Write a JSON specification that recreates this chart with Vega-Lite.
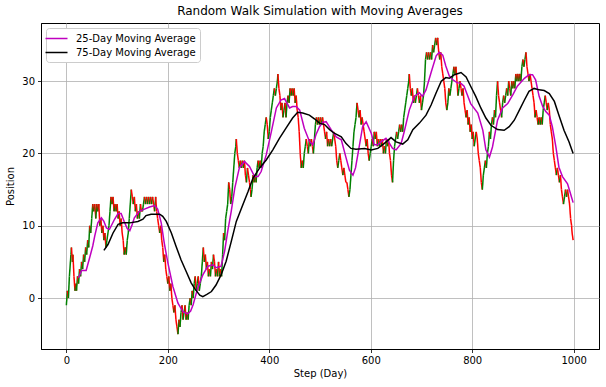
{
  "$schema": "https://vega.github.io/schema/vega-lite/v6.json",
  "width": 558,
  "height": 326,
  "autosize": "none",
  "padding": {"left": 41, "top": 23, "right": 7, "bottom": 38},
  "background": "white",
  "config": {
    "font": "DejaVu Sans",
    "view": {"stroke": "black", "strokeWidth": 1},
    "axis": {
      "labelFont": "DejaVu Sans",
      "titleFont": "DejaVu Sans",
      "labelFontSize": 10,
      "titleFontSize": 10,
      "titleFontWeight": "normal",
      "labelColor": "black",
      "titleColor": "black",
      "domainColor": "black",
      "domainWidth": 1,
      "tickColor": "black",
      "tickSize": 3.5,
      "tickWidth": 0.8,
      "labelPadding": 3,
      "gridColor": "#b0b0b0",
      "gridWidth": 0.8
    }
  },
  "title": {
    "text": "Random Walk Simulation with Moving Averages",
    "font": "DejaVu Sans",
    "fontSize": 12,
    "fontWeight": "normal",
    "color": "black",
    "offset": 5
  },
  "datasets": {
    "walk": [
      {"s":0,"v":-1},{"s":2,"v":1},{"s":4,"v":0},{"s":6,"v":3},{"s":9,"v":6},{"s":10,"v":7},{"s":12,"v":5},{"s":13,"v":6},{"s":15,"v":3},{"s":17,"v":1},{"s":19,"v":2},{"s":20,"v":1},{"s":22,"v":3},{"s":24,"v":2},{"s":26,"v":4},{"s":28,"v":3},{"s":30,"v":5},{"s":32,"v":4},{"s":34,"v":6},{"s":36,"v":5},{"s":38,"v":7},{"s":40,"v":6},{"s":42,"v":8},{"s":44,"v":7},{"s":46,"v":10},{"s":48,"v":9},{"s":50,"v":11},
      {"s":52,"v":13},{"s":54,"v":12},{"s":56,"v":13},{"s":58,"v":11},{"s":60,"v":13},{"s":62,"v":12},{"s":64,"v":13},{"s":66,"v":10},{"s":68,"v":11},{"s":70,"v":9},{"s":72,"v":10},{"s":74,"v":8},{"s":76,"v":9},{"s":78,"v":7},{"s":80,"v":8},{"s":82,"v":9},{"s":84,"v":10},{"s":86,"v":12},{"s":88,"v":14},{"s":90,"v":13},{"s":92,"v":14},{"s":94,"v":12},{"s":96,"v":13},{"s":98,"v":12},{"s":100,"v":13},
      {"s":102,"v":11},{"s":104,"v":12},{"s":106,"v":10},{"s":108,"v":11},{"s":110,"v":9},{"s":112,"v":8},{"s":114,"v":6},{"s":116,"v":7},{"s":118,"v":6},{"s":120,"v":8},{"s":122,"v":9},{"s":124,"v":11},{"s":126,"v":13},{"s":128,"v":15},{"s":130,"v":14},{"s":132,"v":13},{"s":134,"v":14},{"s":136,"v":12},{"s":138,"v":13},{"s":140,"v":11},{"s":142,"v":12},{"s":144,"v":11},{"s":146,"v":13},{"s":148,"v":12},{"s":150,"v":12},
      {"s":152,"v":13},{"s":154,"v":14},{"s":156,"v":13},{"s":158,"v":14},{"s":160,"v":13},{"s":162,"v":14},{"s":164,"v":13},{"s":166,"v":14},{"s":168,"v":13},{"s":170,"v":14},{"s":172,"v":13},{"s":174,"v":12},{"s":176,"v":14},{"s":178,"v":12},{"s":180,"v":11},{"s":182,"v":10},{"s":184,"v":9},{"s":186,"v":10},{"s":188,"v":8},{"s":190,"v":7},{"s":192,"v":5},{"s":194,"v":6},{"s":196,"v":4},{"s":198,"v":3},{"s":200,"v":2},
      {"s":202,"v":3},{"s":204,"v":1},{"s":206,"v":2},{"s":208,"v":0},{"s":210,"v":-1},{"s":212,"v":-2},{"s":214,"v":-1},{"s":216,"v":-3},{"s":218,"v":-4},{"s":220,"v":-5},{"s":222,"v":-3},{"s":224,"v":-4},{"s":226,"v":-2},{"s":228,"v":-1},{"s":230,"v":-3},{"s":232,"v":-2},{"s":234,"v":-1},{"s":236,"v":-3},{"s":238,"v":-2},{"s":240,"v":-3},{"s":242,"v":-1},{"s":244,"v":0},{"s":246,"v":-1},{"s":248,"v":1},{"s":250,"v":0},
      {"s":252,"v":2},{"s":254,"v":3},{"s":256,"v":1},{"s":258,"v":2},{"s":260,"v":3},{"s":262,"v":1},{"s":264,"v":2},{"s":266,"v":3},{"s":268,"v":5},{"s":270,"v":7},{"s":272,"v":5},{"s":274,"v":6},{"s":276,"v":4},{"s":278,"v":5},{"s":280,"v":3},{"s":282,"v":4},{"s":284,"v":3},{"s":286,"v":5},{"s":288,"v":4},{"s":290,"v":6},{"s":292,"v":5},{"s":294,"v":3},{"s":296,"v":4},{"s":298,"v":3},{"s":300,"v":5},
      {"s":302,"v":3},{"s":304,"v":4},{"s":306,"v":3},{"s":308,"v":6},{"s":310,"v":9},{"s":312,"v":8},{"s":314,"v":11},{"s":316,"v":12},{"s":318,"v":13},{"s":320,"v":16},{"s":322,"v":15},{"s":324,"v":13},{"s":326,"v":14},{"s":328,"v":16},{"s":330,"v":18},{"s":332,"v":20},{"s":334,"v":21},{"s":335,"v":22},{"s":337,"v":20},{"s":339,"v":19},{"s":341,"v":18},{"s":343,"v":19},{"s":345,"v":18},{"s":347,"v":19},{"s":349,"v":18},
      {"s":351,"v":19},{"s":353,"v":17},{"s":355,"v":16},{"s":357,"v":18},{"s":359,"v":17},{"s":361,"v":16},{"s":363,"v":15},{"s":364,"v":14},{"s":366,"v":15},{"s":368,"v":17},{"s":370,"v":16},{"s":372,"v":17},{"s":374,"v":16},{"s":376,"v":18},{"s":378,"v":19},{"s":380,"v":18},{"s":382,"v":19},{"s":384,"v":18},{"s":386,"v":20},{"s":388,"v":21},{"s":390,"v":23},{"s":392,"v":24},{"s":394,"v":25},{"s":396,"v":24},{"s":398,"v":22},
      {"s":400,"v":23},{"s":402,"v":25},{"s":404,"v":26},{"s":406,"v":27},{"s":408,"v":28},{"s":410,"v":29},{"s":412,"v":28},{"s":414,"v":29},{"s":416,"v":30},{"s":417,"v":31},{"s":419,"v":29},{"s":421,"v":28},{"s":423,"v":26},{"s":425,"v":27},{"s":427,"v":25},{"s":429,"v":26},{"s":431,"v":27},{"s":433,"v":25},{"s":435,"v":27},{"s":437,"v":28},{"s":439,"v":27},{"s":441,"v":29},{"s":443,"v":28},{"s":445,"v":29},{"s":447,"v":28},
      {"s":449,"v":29},{"s":451,"v":27},{"s":453,"v":28},{"s":455,"v":26},{"s":457,"v":25},{"s":459,"v":23},{"s":461,"v":20},{"s":463,"v":18},{"s":465,"v":19},{"s":467,"v":18},{"s":469,"v":20},{"s":471,"v":21},{"s":473,"v":22},{"s":475,"v":21},{"s":477,"v":20},{"s":479,"v":22},{"s":481,"v":21},{"s":483,"v":22},{"s":485,"v":21},{"s":487,"v":20},{"s":489,"v":22},{"s":491,"v":24},{"s":493,"v":25},{"s":495,"v":24},{"s":497,"v":25},
      {"s":499,"v":24},{"s":501,"v":25},{"s":503,"v":24},{"s":505,"v":25},{"s":507,"v":24},{"s":509,"v":23},{"s":511,"v":22},{"s":513,"v":23},{"s":515,"v":21},{"s":517,"v":22},{"s":519,"v":21},{"s":521,"v":22},{"s":523,"v":21},{"s":525,"v":22},{"s":527,"v":23},{"s":529,"v":22},{"s":531,"v":21},{"s":533,"v":19},{"s":535,"v":18},{"s":537,"v":19},{"s":539,"v":20},{"s":541,"v":19},{"s":543,"v":18},{"s":545,"v":17},{"s":547,"v":18},
      {"s":549,"v":17},{"s":551,"v":16},{"s":553,"v":16},{"s":555,"v":15},{"s":557,"v":14},{"s":559,"v":15},{"s":561,"v":17},{"s":563,"v":19},{"s":565,"v":21},{"s":567,"v":23},{"s":569,"v":24},{"s":571,"v":25},{"s":573,"v":27},{"s":575,"v":26},{"s":577,"v":25},{"s":579,"v":26},{"s":581,"v":24},{"s":583,"v":25},{"s":585,"v":24},{"s":587,"v":23},{"s":589,"v":22},{"s":591,"v":21},{"s":593,"v":22},{"s":595,"v":20},{"s":597,"v":19},
      {"s":599,"v":20},{"s":601,"v":21},{"s":603,"v":22},{"s":605,"v":21},{"s":607,"v":23},{"s":609,"v":22},{"s":611,"v":23},{"s":613,"v":21},{"s":615,"v":22},{"s":617,"v":21},{"s":619,"v":22},{"s":621,"v":21},{"s":623,"v":22},{"s":625,"v":20},{"s":627,"v":21},{"s":629,"v":20},{"s":631,"v":22},{"s":633,"v":21},{"s":635,"v":22},{"s":637,"v":20},{"s":639,"v":19},{"s":641,"v":17},{"s":643,"v":16},{"s":645,"v":19},{"s":647,"v":21},
      {"s":649,"v":22},{"s":651,"v":23},{"s":653,"v":22},{"s":655,"v":23},{"s":657,"v":24},{"s":659,"v":23},{"s":661,"v":24},{"s":663,"v":23},{"s":665,"v":25},{"s":667,"v":26},{"s":669,"v":27},{"s":671,"v":28},{"s":673,"v":29},{"s":675,"v":30},{"s":676,"v":31},{"s":678,"v":29},{"s":680,"v":28},{"s":682,"v":29},{"s":684,"v":27},{"s":686,"v":28},{"s":688,"v":27},{"s":690,"v":28},{"s":692,"v":29},{"s":694,"v":28},{"s":696,"v":27},
      {"s":698,"v":28},{"s":700,"v":26},{"s":702,"v":27},{"s":704,"v":28},{"s":706,"v":30},{"s":708,"v":33},{"s":710,"v":34},{"s":712,"v":33},{"s":714,"v":34},{"s":716,"v":33},{"s":718,"v":34},{"s":720,"v":33},{"s":722,"v":35},{"s":724,"v":34},{"s":726,"v":35},{"s":728,"v":36},{"s":730,"v":35},{"s":732,"v":36},{"s":734,"v":34},{"s":736,"v":33},{"s":738,"v":34},{"s":740,"v":32},{"s":742,"v":31},{"s":744,"v":30},{"s":746,"v":29},
      {"s":748,"v":27},{"s":750,"v":26},{"s":752,"v":27},{"s":754,"v":29},{"s":756,"v":28},{"s":758,"v":29},{"s":760,"v":30},{"s":762,"v":31},{"s":764,"v":32},{"s":766,"v":31},{"s":768,"v":32},{"s":770,"v":30},{"s":772,"v":28},{"s":774,"v":29},{"s":776,"v":30},{"s":778,"v":29},{"s":780,"v":28},{"s":782,"v":29},{"s":784,"v":27},{"s":786,"v":26},{"s":788,"v":25},{"s":790,"v":26},{"s":792,"v":24},{"s":794,"v":25},{"s":796,"v":23},
      {"s":798,"v":24},{"s":800,"v":22},{"s":802,"v":23},{"s":804,"v":21},{"s":806,"v":22},{"s":808,"v":23},{"s":810,"v":22},{"s":812,"v":20},{"s":814,"v":19},{"s":816,"v":18},{"s":818,"v":16},{"s":820,"v":15},{"s":822,"v":17},{"s":824,"v":18},{"s":826,"v":19},{"s":828,"v":18},{"s":830,"v":20},{"s":832,"v":21},{"s":834,"v":23},{"s":836,"v":22},{"s":838,"v":24},{"s":840,"v":25},{"s":842,"v":24},{"s":844,"v":26},{"s":846,"v":25},
      {"s":848,"v":28},{"s":850,"v":30},{"s":852,"v":28},{"s":854,"v":27},{"s":856,"v":26},{"s":858,"v":25},{"s":860,"v":27},{"s":862,"v":28},{"s":864,"v":27},{"s":866,"v":28},{"s":868,"v":29},{"s":870,"v":28},{"s":872,"v":30},{"s":874,"v":29},{"s":876,"v":28},{"s":878,"v":30},{"s":880,"v":29},{"s":882,"v":30},{"s":884,"v":29},{"s":886,"v":31},{"s":888,"v":30},{"s":890,"v":31},{"s":892,"v":30},{"s":894,"v":31},{"s":896,"v":30},
      {"s":898,"v":32},{"s":900,"v":33},{"s":902,"v":32},{"s":904,"v":33},{"s":906,"v":34},{"s":908,"v":32},{"s":910,"v":31},{"s":912,"v":30},{"s":914,"v":31},{"s":916,"v":30},{"s":918,"v":29},{"s":920,"v":28},{"s":922,"v":27},{"s":924,"v":25},{"s":926,"v":26},{"s":928,"v":25},{"s":930,"v":24},{"s":932,"v":25},{"s":934,"v":24},{"s":936,"v":25},{"s":938,"v":24},{"s":940,"v":26},{"s":942,"v":27},{"s":944,"v":28},{"s":946,"v":27},
      {"s":948,"v":26},{"s":950,"v":27},{"s":952,"v":26},{"s":954,"v":24},{"s":956,"v":23},{"s":958,"v":22},{"s":960,"v":20},{"s":962,"v":19},{"s":964,"v":18},{"s":966,"v":17},{"s":968,"v":18},{"s":970,"v":17},{"s":972,"v":16},{"s":974,"v":17},{"s":976,"v":15},{"s":978,"v":14},{"s":980,"v":13},{"s":982,"v":14},{"s":984,"v":15},{"s":986,"v":14},{"s":988,"v":15},{"s":990,"v":14},{"s":992,"v":13},{"s":994,"v":11},{"s":996,"v":10},{"s":997,"v":9},{"s":999,"v":8}
    ],
    "ma": [
      {"s":24,"v":2.8,"k":"25-Day Moving Average"},{"s":30,"v":3.8,"k":"25-Day Moving Average"},{"s":39,"v":3.8,"k":"25-Day Moving Average"},{"s":46,"v":5.6,"k":"25-Day Moving Average"},{"s":52,"v":7.2,"k":"25-Day Moving Average"},{"s":56,"v":8.6,"k":"25-Day Moving Average"},{"s":62,"v":10.4,"k":"25-Day Moving Average"},{"s":69,"v":11.1,"k":"25-Day Moving Average"},{"s":74,"v":10.6,"k":"25-Day Moving Average"},{"s":79,"v":9.7,"k":"25-Day Moving Average"},{"s":85,"v":9.5,"k":"25-Day Moving Average"},{"s":95,"v":10.9,"k":"25-Day Moving Average"},{"s":102,"v":11.7,"k":"25-Day Moving Average"},{"s":108,"v":11.7,"k":"25-Day Moving Average"},{"s":114,"v":10.6,"k":"25-Day Moving Average"},{"s":120,"v":9.6,"k":"25-Day Moving Average"},{"s":125,"v":9.3,"k":"25-Day Moving Average"},{"s":130,"v":10.2,"k":"25-Day Moving Average"},{"s":134,"v":11.1,"k":"25-Day Moving Average"},{"s":144,"v":12,"k":"25-Day Moving Average"},{"s":154,"v":12.3,"k":"25-Day Moving Average"},{"s":164,"v":12.6,"k":"25-Day Moving Average"},{"s":174,"v":12.8,"k":"25-Day Moving Average"},{"s":180,"v":12.3,"k":"25-Day Moving Average"},{"s":187,"v":10.4,"k":"25-Day Moving Average"},{"s":193,"v":7.6,"k":"25-Day Moving Average"},{"s":200,"v":4.9,"k":"25-Day Moving Average"},{"s":210,"v":1.6,"k":"25-Day Moving Average"},{"s":220,"v":-0.7,"k":"25-Day Moving Average"},{"s":230,"v":-1.9,"k":"25-Day Moving Average"},{"s":239,"v":-2.2,"k":"25-Day Moving Average"},{"s":245,"v":-1.8,"k":"25-Day Moving Average"},{"s":250,"v":-0.9,"k":"25-Day Moving Average"},{"s":259,"v":1.4,"k":"25-Day Moving Average"},{"s":269,"v":3.2,"k":"25-Day Moving Average"},{"s":279,"v":4.4,"k":"25-Day Moving Average"},{"s":289,"v":4.6,"k":"25-Day Moving Average"},{"s":295,"v":4.2,"k":"25-Day Moving Average"},{"s":300,"v":4.3,"k":"25-Day Moving Average"},{"s":305,"v":4.4,"k":"25-Day Moving Average"},{"s":312,"v":6.5,"k":"25-Day Moving Average"},{"s":318,"v":9.2,"k":"25-Day Moving Average"},{"s":325,"v":12,"k":"25-Day Moving Average"},{"s":332,"v":15.2,"k":"25-Day Moving Average"},{"s":341,"v":18,"k":"25-Day Moving Average"},{"s":351,"v":18.9,"k":"25-Day Moving Average"},{"s":361,"v":18.2,"k":"25-Day Moving Average"},{"s":371,"v":16.8,"k":"25-Day Moving Average"},{"s":378,"v":16.8,"k":"25-Day Moving Average"},{"s":384,"v":17.5,"k":"25-Day Moving Average"},{"s":394,"v":19.8,"k":"25-Day Moving Average"},{"s":404,"v":23,"k":"25-Day Moving Average"},{"s":414,"v":26.3,"k":"25-Day Moving Average"},{"s":423,"v":27.4,"k":"25-Day Moving Average"},{"s":430,"v":27.6,"k":"25-Day Moving Average"},{"s":440,"v":26.3,"k":"25-Day Moving Average"},{"s":446,"v":26.5,"k":"25-Day Moving Average"},{"s":453,"v":26.5,"k":"25-Day Moving Average"},{"s":460,"v":26,"k":"25-Day Moving Average"},{"s":469,"v":23.5,"k":"25-Day Moving Average"},{"s":479,"v":21.7,"k":"25-Day Moving Average"},{"s":486,"v":21.2,"k":"25-Day Moving Average"},{"s":492,"v":22.6,"k":"25-Day Moving Average"},{"s":499,"v":23.7,"k":"25-Day Moving Average"},{"s":505,"v":24.3,"k":"25-Day Moving Average"},{"s":512,"v":24.4,"k":"25-Day Moving Average"},{"s":522,"v":23.3,"k":"25-Day Moving Average"},{"s":532,"v":22.3,"k":"25-Day Moving Average"},{"s":542,"v":21.9,"k":"25-Day Moving Average"},{"s":551,"v":19.5,"k":"25-Day Moving Average"},{"s":558,"v":17.7,"k":"25-Day Moving Average"},{"s":565,"v":17,"k":"25-Day Moving Average"},{"s":570,"v":18,"k":"25-Day Moving Average"},{"s":575,"v":20,"k":"25-Day Moving Average"},{"s":584,"v":23.7,"k":"25-Day Moving Average"},{"s":591,"v":24.4,"k":"25-Day Moving Average"},{"s":601,"v":22.8,"k":"25-Day Moving Average"},{"s":607,"v":21.2,"k":"25-Day Moving Average"},{"s":614,"v":21.2,"k":"25-Day Moving Average"},{"s":620,"v":21.6,"k":"25-Day Moving Average"},{"s":630,"v":22.1,"k":"25-Day Moving Average"},{"s":637,"v":21.4,"k":"25-Day Moving Average"},{"s":643,"v":20.7,"k":"25-Day Moving Average"},{"s":650,"v":20.5,"k":"25-Day Moving Average"},{"s":660,"v":21.4,"k":"25-Day Moving Average"},{"s":666,"v":23,"k":"25-Day Moving Average"},{"s":676,"v":26,"k":"25-Day Moving Average"},{"s":686,"v":27.9,"k":"25-Day Moving Average"},{"s":696,"v":28.4,"k":"25-Day Moving Average"},{"s":702,"v":27.9,"k":"25-Day Moving Average"},{"s":709,"v":28.8,"k":"25-Day Moving Average"},{"s":719,"v":31.2,"k":"25-Day Moving Average"},{"s":729,"v":33.5,"k":"25-Day Moving Average"},{"s":735,"v":34,"k":"25-Day Moving Average"},{"s":742,"v":33.6,"k":"25-Day Moving Average"},{"s":748,"v":32.1,"k":"25-Day Moving Average"},{"s":755,"v":30.7,"k":"25-Day Moving Average"},{"s":762,"v":30.2,"k":"25-Day Moving Average"},{"s":770,"v":29.8,"k":"25-Day Moving Average"},{"s":778,"v":29.7,"k":"25-Day Moving Average"},{"s":784,"v":29.3,"k":"25-Day Moving Average"},{"s":790,"v":28.2,"k":"25-Day Moving Average"},{"s":797,"v":26.9,"k":"25-Day Moving Average"},{"s":811,"v":25.6,"k":"25-Day Moving Average"},{"s":821,"v":23.2,"k":"25-Day Moving Average"},{"s":827,"v":20.5,"k":"25-Day Moving Average"},{"s":834,"v":19.5,"k":"25-Day Moving Average"},{"s":840,"v":20.9,"k":"25-Day Moving Average"},{"s":850,"v":24.6,"k":"25-Day Moving Average"},{"s":860,"v":26.3,"k":"25-Day Moving Average"},{"s":870,"v":26.9,"k":"25-Day Moving Average"},{"s":880,"v":28.1,"k":"25-Day Moving Average"},{"s":889,"v":29.3,"k":"25-Day Moving Average"},{"s":903,"v":30.4,"k":"25-Day Moving Average"},{"s":912,"v":30.9,"k":"25-Day Moving Average"},{"s":919,"v":30.9,"k":"25-Day Moving Average"},{"s":925,"v":30.2,"k":"25-Day Moving Average"},{"s":932,"v":27.9,"k":"25-Day Moving Average"},{"s":939,"v":26.5,"k":"25-Day Moving Average"},{"s":945,"v":25.8,"k":"25-Day Moving Average"},{"s":952,"v":25.3,"k":"25-Day Moving Average"},{"s":958,"v":23.7,"k":"25-Day Moving Average"},{"s":965,"v":20.9,"k":"25-Day Moving Average"},{"s":971,"v":18.1,"k":"25-Day Moving Average"},{"s":978,"v":16.8,"k":"25-Day Moving Average"},{"s":988,"v":15.8,"k":"25-Day Moving Average"},{"s":994,"v":14.4,"k":"25-Day Moving Average"},{"s":999,"v":13.2,"k":"25-Day Moving Average"},
      {"s":74,"v":6.6,"k":"75-Day Moving Average"},{"s":82,"v":7.4,"k":"75-Day Moving Average"},{"s":92,"v":9,"k":"75-Day Moving Average"},{"s":102,"v":10.2,"k":"75-Day Moving Average"},{"s":111,"v":10.4,"k":"75-Day Moving Average"},{"s":125,"v":10.4,"k":"75-Day Moving Average"},{"s":141,"v":10.6,"k":"75-Day Moving Average"},{"s":151,"v":10.9,"k":"75-Day Moving Average"},{"s":157,"v":11.4,"k":"75-Day Moving Average"},{"s":167,"v":11.6,"k":"75-Day Moving Average"},{"s":184,"v":11.6,"k":"75-Day Moving Average"},{"s":190,"v":11.3,"k":"75-Day Moving Average"},{"s":197,"v":10.6,"k":"75-Day Moving Average"},{"s":207,"v":9,"k":"75-Day Moving Average"},{"s":216,"v":7.2,"k":"75-Day Moving Average"},{"s":226,"v":5.3,"k":"75-Day Moving Average"},{"s":236,"v":3.7,"k":"75-Day Moving Average"},{"s":246,"v":2.1,"k":"75-Day Moving Average"},{"s":253,"v":1.3,"k":"75-Day Moving Average"},{"s":263,"v":0.4,"k":"75-Day Moving Average"},{"s":269,"v":0.2,"k":"75-Day Moving Average"},{"s":277,"v":0.5,"k":"75-Day Moving Average"},{"s":286,"v":0.9,"k":"75-Day Moving Average"},{"s":295,"v":1.8,"k":"75-Day Moving Average"},{"s":305,"v":3.2,"k":"75-Day Moving Average"},{"s":315,"v":5.1,"k":"75-Day Moving Average"},{"s":325,"v":7.8,"k":"75-Day Moving Average"},{"s":335,"v":10.6,"k":"75-Day Moving Average"},{"s":345,"v":12.4,"k":"75-Day Moving Average"},{"s":358,"v":14.7,"k":"75-Day Moving Average"},{"s":368,"v":16.6,"k":"75-Day Moving Average"},{"s":381,"v":18,"k":"75-Day Moving Average"},{"s":394,"v":19.1,"k":"75-Day Moving Average"},{"s":407,"v":20.5,"k":"75-Day Moving Average"},{"s":420,"v":22.1,"k":"75-Day Moving Average"},{"s":433,"v":23.5,"k":"75-Day Moving Average"},{"s":446,"v":24.9,"k":"75-Day Moving Average"},{"s":456,"v":25.7,"k":"75-Day Moving Average"},{"s":466,"v":25.6,"k":"75-Day Moving Average"},{"s":479,"v":25.3,"k":"75-Day Moving Average"},{"s":489,"v":24.8,"k":"75-Day Moving Average"},{"s":499,"v":24.2,"k":"75-Day Moving Average"},{"s":509,"v":24,"k":"75-Day Moving Average"},{"s":519,"v":23.3,"k":"75-Day Moving Average"},{"s":528,"v":22.8,"k":"75-Day Moving Average"},{"s":542,"v":22.3,"k":"75-Day Moving Average"},{"s":551,"v":21.4,"k":"75-Day Moving Average"},{"s":561,"v":20.7,"k":"75-Day Moving Average"},{"s":571,"v":20.6,"k":"75-Day Moving Average"},{"s":588,"v":20.7,"k":"75-Day Moving Average"},{"s":601,"v":20.5,"k":"75-Day Moving Average"},{"s":614,"v":20.7,"k":"75-Day Moving Average"},{"s":627,"v":21.4,"k":"75-Day Moving Average"},{"s":640,"v":22.2,"k":"75-Day Moving Average"},{"s":650,"v":21.6,"k":"75-Day Moving Average"},{"s":663,"v":21.3,"k":"75-Day Moving Average"},{"s":673,"v":21.9,"k":"75-Day Moving Average"},{"s":683,"v":23.3,"k":"75-Day Moving Average"},{"s":696,"v":24.2,"k":"75-Day Moving Average"},{"s":709,"v":25.3,"k":"75-Day Moving Average"},{"s":719,"v":26.7,"k":"75-Day Moving Average"},{"s":729,"v":28.4,"k":"75-Day Moving Average"},{"s":739,"v":30,"k":"75-Day Moving Average"},{"s":748,"v":30.5,"k":"75-Day Moving Average"},{"s":755,"v":30.4,"k":"75-Day Moving Average"},{"s":765,"v":30.9,"k":"75-Day Moving Average"},{"s":778,"v":31.2,"k":"75-Day Moving Average"},{"s":788,"v":30.6,"k":"75-Day Moving Average"},{"s":797,"v":29.3,"k":"75-Day Moving Average"},{"s":807,"v":27.9,"k":"75-Day Moving Average"},{"s":817,"v":26.3,"k":"75-Day Moving Average"},{"s":827,"v":24.9,"k":"75-Day Moving Average"},{"s":837,"v":23.9,"k":"75-Day Moving Average"},{"s":850,"v":23.3,"k":"75-Day Moving Average"},{"s":863,"v":23.2,"k":"75-Day Moving Average"},{"s":873,"v":23.7,"k":"75-Day Moving Average"},{"s":883,"v":24.6,"k":"75-Day Moving Average"},{"s":893,"v":26,"k":"75-Day Moving Average"},{"s":903,"v":27.4,"k":"75-Day Moving Average"},{"s":912,"v":28.6,"k":"75-Day Moving Average"},{"s":922,"v":29,"k":"75-Day Moving Average"},{"s":932,"v":28.8,"k":"75-Day Moving Average"},{"s":942,"v":28.7,"k":"75-Day Moving Average"},{"s":952,"v":28.3,"k":"75-Day Moving Average"},{"s":962,"v":27.2,"k":"75-Day Moving Average"},{"s":971,"v":25.3,"k":"75-Day Moving Average"},{"s":981,"v":23.2,"k":"75-Day Moving Average"},{"s":991,"v":21.6,"k":"75-Day Moving Average"},{"s":999,"v":20,"k":"75-Day Moving Average"}
    ]
  },
  "layer": [
    {
      "data": {"name": "walk"},
      "transform": [
        {"window": [{"op": "lead", "field": "s", "as": "ns"}, {"op": "lead", "field": "v", "as": "nv"}], "sort": [{"field": "s"}]},
        {"filter": "datum.ns != null"}
      ],
      "mark": {"type": "rule", "strokeWidth": 1.5, "strokeCap": "butt"},
      "encoding": {
        "x": {"field": "s", "type": "quantitative", "scale": {"domain": [-50, 1050], "nice": false, "zero": false}, "axis": {"values": [0, 200, 400, 600, 800, 1000], "format": "d", "title": "Step (Day)", "grid": true, "titlePadding": 3}},
        "x2": {"field": "ns"},
        "y": {"field": "v", "type": "quantitative", "scale": {"domain": [-7.05, 38.05], "nice": false, "zero": false}, "axis": {"values": [0, 10, 20, 30], "format": "d", "title": "Position", "grid": true, "titlePadding": 6}},
        "y2": {"field": "nv"},
        "color": {"condition": {"test": "datum.nv > datum.v", "value": "green"}, "value": "red"}
      }
    },
    {
      "data": {"name": "ma"},
      "mark": {"type": "line", "strokeWidth": 1.5},
      "encoding": {
        "x": {"field": "s", "type": "quantitative"},
        "y": {"field": "v", "type": "quantitative"},
        "color": {
          "field": "k", "type": "nominal",
          "scale": {"domain": ["25-Day Moving Average", "75-Day Moving Average"], "range": ["#bf00bf", "black"]},
          "legend": {
            "title": null,
            "orient": "top-left",
            "offset": 5,
            "symbolType": "M-2,0H2",
            "symbolSize": 121,
            "symbolStrokeWidth": 1.5,
            "labelFontSize": 10,
            "labelFont": "DejaVu Sans",
            "labelColor": "black",
            "labelOffset": 13,
            "rowPadding": 2,
            "padding": 4,
            "fillColor": "white",
            "strokeColor": "#cccccc",
            "cornerRadius": 3
          }
        }
      }
    }
  ]
}
